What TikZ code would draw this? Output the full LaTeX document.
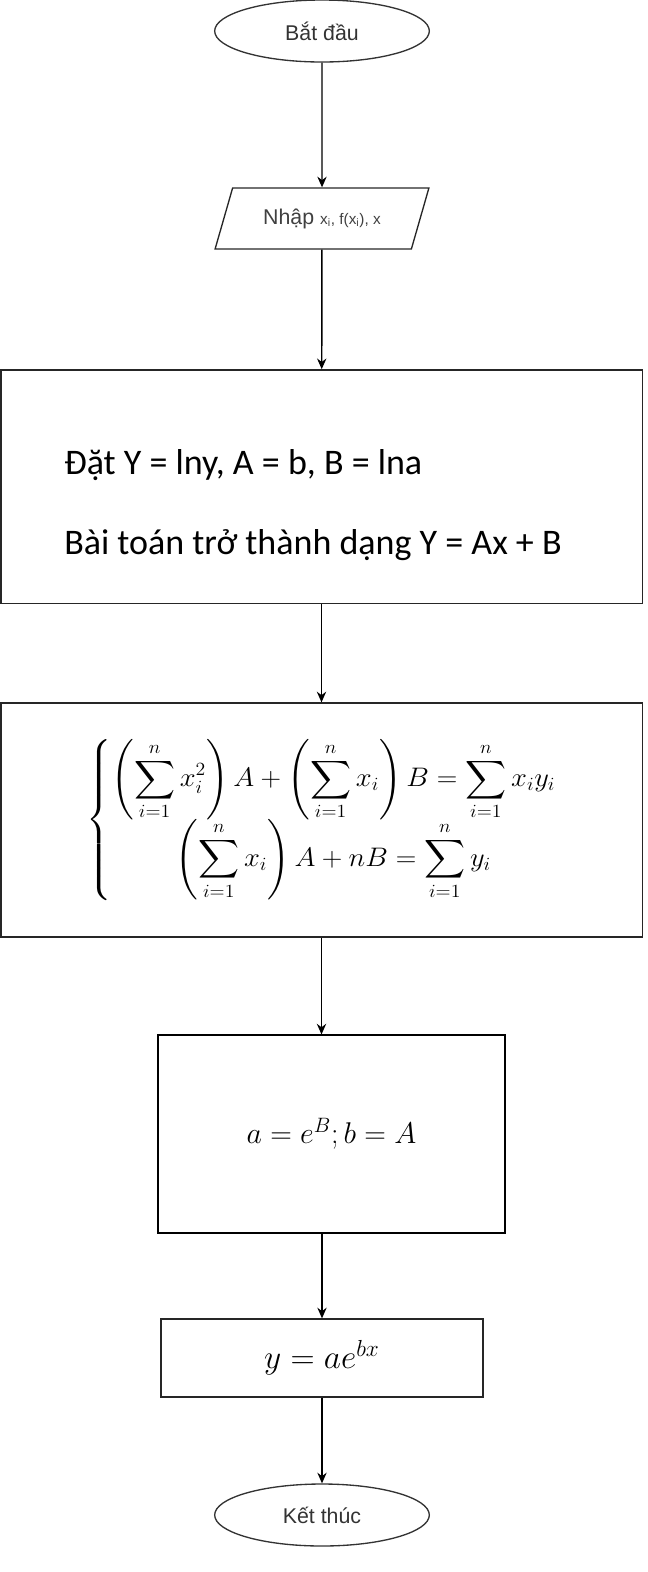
\documentclass[tikz,border=0pt]{standalone}
\usepackage{amsmath}
\usepackage{graphicx}
\usepackage{fontspec}
\setmainfont{Liberation Sans}
\newfontfamily\calfont{Carlito}
\usetikzlibrary{shapes.geometric,arrows.meta}

\tikzset{
  term/.style={ellipse, draw=black!80, line width=1pt, minimum width=161pt,
    minimum height=46.5pt, inner sep=0pt, text=black!80, font=\fontsize{16}{18}\selectfont},
  io/.style={trapezium, trapezium left angle=60, trapezium right angle=120,
    trapezium stretches=true, draw=black!85, line width=1pt, inner sep=0pt,
    text=black!75, font=\fontsize{16}{18}\selectfont},
  proc/.style={rectangle, draw=black!85, line width=1pt, inner sep=0pt},
  flow/.style={->, >={Stealth[length=8pt,width=7pt]}, line width=1.1pt}
}

\begin{document}
\begin{tikzpicture}[x=0.75pt, y=-0.75pt]
  \useasboundingbox (0,0) rectangle (647,1572);
  % start and input
  \node[term] (start) at (322,31) {Bắt đầu};
  \node[io, minimum width=160.5pt, minimum height=45.75pt] (input) at (322,218.5)
    {Nhập {\fontsize{11.5}{13}\selectfont x\textsubscript{i}, f(x\textsubscript{i}), x}};
  % substitution
  \node[proc, minimum width=481pt, minimum height=175pt] (set) at (321.5,486.5) {};
  \node[anchor=west, align=left, inner sep=0pt, font=\calfont\fontsize{27}{60}\selectfont] (settext) at (64,505)
    {Đặt Y = lny, A = b, B = lna\\Bài toán trở thành dạng Y = Ax + B};
  % normal equations
  \node[proc, minimum width=481pt, minimum height=175.5pt, font=\fontsize{20}{24}\selectfont] (solve) at (321.5,820)
    {\scalebox{1.03}[0.97]{$\left\{\begin{array}{@{}c@{}}
      \displaystyle\left(\sum_{i=1}^{n} x_i^2\right)A+\left(\sum_{i=1}^{n} x_i\right)B=\sum_{i=1}^{n} x_iy_i\\[-1pt]
      \displaystyle\left(\sum_{i=1}^{n} x_i\right)A+nB=\sum_{i=1}^{n} y_i
    \end{array}\right.$}};
  % back substitution
  \node[proc, line width=1.3pt, draw=black, minimum width=260pt, minimum height=148pt,
    font=\fontsize{17}{20}\selectfont] (expo) at (331.5,1134) {\scalebox{1.3}{$a=e^B;b=A$}};
  \node[proc, minimum width=241.5pt, minimum height=58.5pt, font=\fontsize{17}{20}\selectfont]
    (result) at (322,1358) {\scalebox{1.45}{$y=ae^{bx}$}};
  \node[term] (stop) at (322,1515) {Kết thúc};
  % connectors
  \draw[flow] (start) -- (input);
  \draw[flow] (input) -- (set);
  \draw[flow] (set) -- (solve);
  \draw[flow] (solve.south) -- (solve.south |- expo.north);
  \draw[flow] (result.north |- expo.south) -- (result);
  \draw[flow] (result) -- (stop);
\end{tikzpicture}
\end{document}
